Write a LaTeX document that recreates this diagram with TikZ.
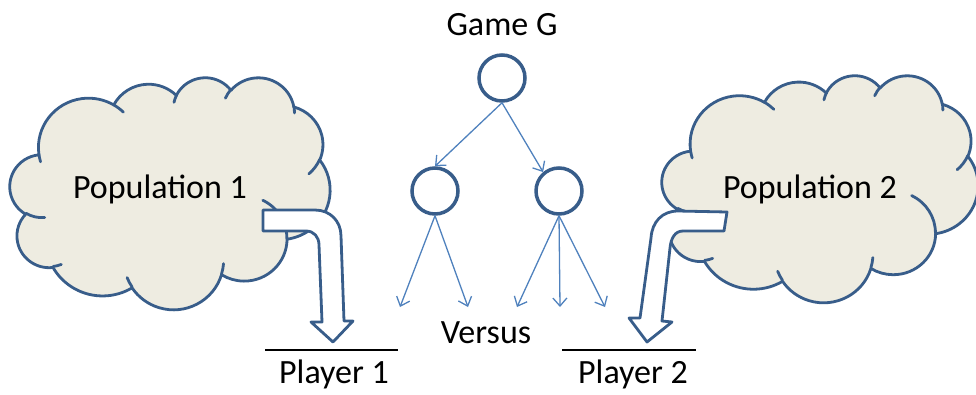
\documentclass[tikz,border=0pt]{standalone}
\usepackage{fontspec}
\setmainfont{Carlito}
\usetikzlibrary{arrows.meta}

\definecolor{cloudfill}{HTML}{EEECE1}
\definecolor{darkblue}{HTML}{385D8A}
\definecolor{lightblue}{HTML}{4F81BD}

% Elliptical arc given by radii and visual start/sweep angles (degrees),
% converted to the parametric angles that TikZ's arc expects.
\tikzset{
  oarc/.style n args={4}{
    /utils/exec={%
      \pgfmathsetmacro\oarcA{atan2((#1)*sin(#3),(#2)*cos(#3))}%
      \pgfmathsetmacro\oarcB{atan2((#1)*sin((#3)+(#4)),(#2)*cos((#3)+(#4)))}%
      \pgfmathsetmacro\oarcD{mod(\oarcB-\oarcA+720,360)}%
    },
    insert path={arc[start angle=\oarcA, delta angle=\oarcD, x radius=#1, y radius=#2]}
  },
  cloudline/.style={draw=darkblue, line width=2.8pt, line join=round},
  gamenode/.style={circle, draw=darkblue, fill=white, line width=3.5pt,
    minimum size=46pt, inner sep=0pt},
  move/.style={draw=lightblue, line width=1.3pt,
    -{Straight Barb[length=8pt,width=14pt]}},
  blockarrow/.style={draw=darkblue, fill=white, line width=2.8pt, line join=round},
  baseline rule/.style={draw=black, line width=2.8pt},
  label/.style={anchor=base, inner sep=0pt, font=\fontsize{34}{40}\selectfont}
}

% Cloud in a 432 x 432 box placed at (#1,#2) with width #3 and height #4
\newcommand\puffcloud[4]{%
  \pgfmathsetmacro\cloudsx{#3/432}%
  \pgfmathsetmacro\cloudsy{#4/432}%
  \begin{scope}[shift={(#1,#2)}, x=\cloudsx pt, y=-\cloudsy pt]
    \path[cloudline, fill=cloudfill] (39.00,143.70)
      [oarc={67.53}{91.90}{-190.4875}{123.7805}]
      [oarc={53.33}{72.67}{-144.1024}{89.9452}]
      [oarc={43.65}{59.45}{-145.8079}{99.7230}]
      [oarc={48.57}{65.95}{-130.9861}{117.2417}]
      [oarc={53.33}{72.73}{-78.7089}{109.0269}]
      [oarc={67.75}{92.20}{-46.2673}{130.2690}]
      [oarc={57.85}{78.67}{0.6250}{114.0333}]
      [oarc={67.52}{92.15}{22.4516}{115.1726}]
      [oarc={77.20}{105.43}{66.2426}{75.7110}]
      [oarc={43.60}{59.18}{-274.9421}{146.7356}]
      [oarc={43.45}{59.45}{-246.8285}{152.5189}]
      -- cycle;
    \path[cloudline, line cap=round]
      (46.93,261.77) [oarc={43.45}{59.45}{86.7420}{26.4295}]
      (69.28,348.99) [oarc={43.60}{59.18}{73.6105}{11.4475}]
      (164.78,390.90) [oarc={67.52}{92.15}{137.6242}{14.0811}]
      (288.27,347.51) [oarc={67.52}{92.15}{6.4533}{15.9984}]
      (341.29,229.54) [oarc={57.85}{78.67}{-70.2924}{70.9174}]
      (417.98,153.54) [oarc={53.33}{72.73}{30.3180}{27.7515}]
      (383.24,54.26) [oarc={48.57}{65.95}{-13.7443}{14.8538}]
      (290.78,39.52) [oarc={48.57}{65.95}{-149.1815}{18.1867}]
      (221.41,47.20) [oarc={43.65}{59.45}{-163.4943}{17.6864}]
      (140.00,51.92) [oarc={67.53}{91.90}{-66.7070}{12.3194}]
      (41.27,157.89) [oarc={67.53}{91.90}{157.6544}{11.8582}];
  \end{scope}%
}

\begin{document}
\begin{tikzpicture}[x=1pt, y=-1pt]
  \useasboundingbox (0,0) rectangle (976,394);

  % the two populations
  \puffcloud{10}{77}{320}{232}
  \puffcloud{662}{75}{316}{227}

  % game tree
  \node[label] (title) at (502,35) {Game G};
  \node[gamenode] (root) at (502,78) {};
  \node[gamenode] (left) at (435,191) {};
  \node[gamenode] (right) at (559,191) {};
  \coordinate (l1) at (400,307);
  \coordinate (l2) at (468,307);
  \coordinate (r1) at (517,307);
  \coordinate (r2) at (560,307);
  \coordinate (r3) at (605,307);
  \draw[move] (root.south) -- (left.north);
  \draw[move] (root.south) -- (right.130);
  \draw[move] (left.south) -- (l1);
  \draw[move] (left.south) -- (l2);
  \draw[move] (right.south) -- (r1);
  \draw[move] (right.south) -- (r2);
  \draw[move] (right.south) -- (r3);

  % population labels
  \node[label] (pop1) at (160,198) {Population 1};
  \node[label] (pop2) at (810,198) {Population 2};

  % bent arrows from each population to its player
  \path[blockarrow] (263,210) -- (315,210)
    .. controls (330,210) and (341,221) .. (341,236)
    -- (344,321) -- (353,321) -- (333,342) -- (311,322) -- (322,322)
    -- (319,245) .. controls (319,237) and (314,231) .. (306,231)
    -- (263,231) -- cycle;
  \path[blockarrow] (727,212) -- (678,211)
    .. controls (662,211) and (652,222) .. (651,238)
    -- (640,318) -- (629,318) -- (647,342) -- (672,322) -- (662,321)
    -- (670,248) .. controls (671,238) and (675,231) .. (683,231)
    -- (724,231) -- cycle;

  % players
  \coordinate (p1a) at (265,350);
  \coordinate (p1b) at (398,350);
  \coordinate (p2a) at (562,350);
  \coordinate (p2b) at (696,350);
  \draw[baseline rule] (p1a) -- (p1b);
  \draw[baseline rule] (p2a) -- (p2b);
  \node[label] (player1) at (334,383) {Player 1};
  \node[label] (player2) at (633,383) {Player 2};
  \node[label] (versus) at (486,343) {Versus};
\end{tikzpicture}
\end{document}
